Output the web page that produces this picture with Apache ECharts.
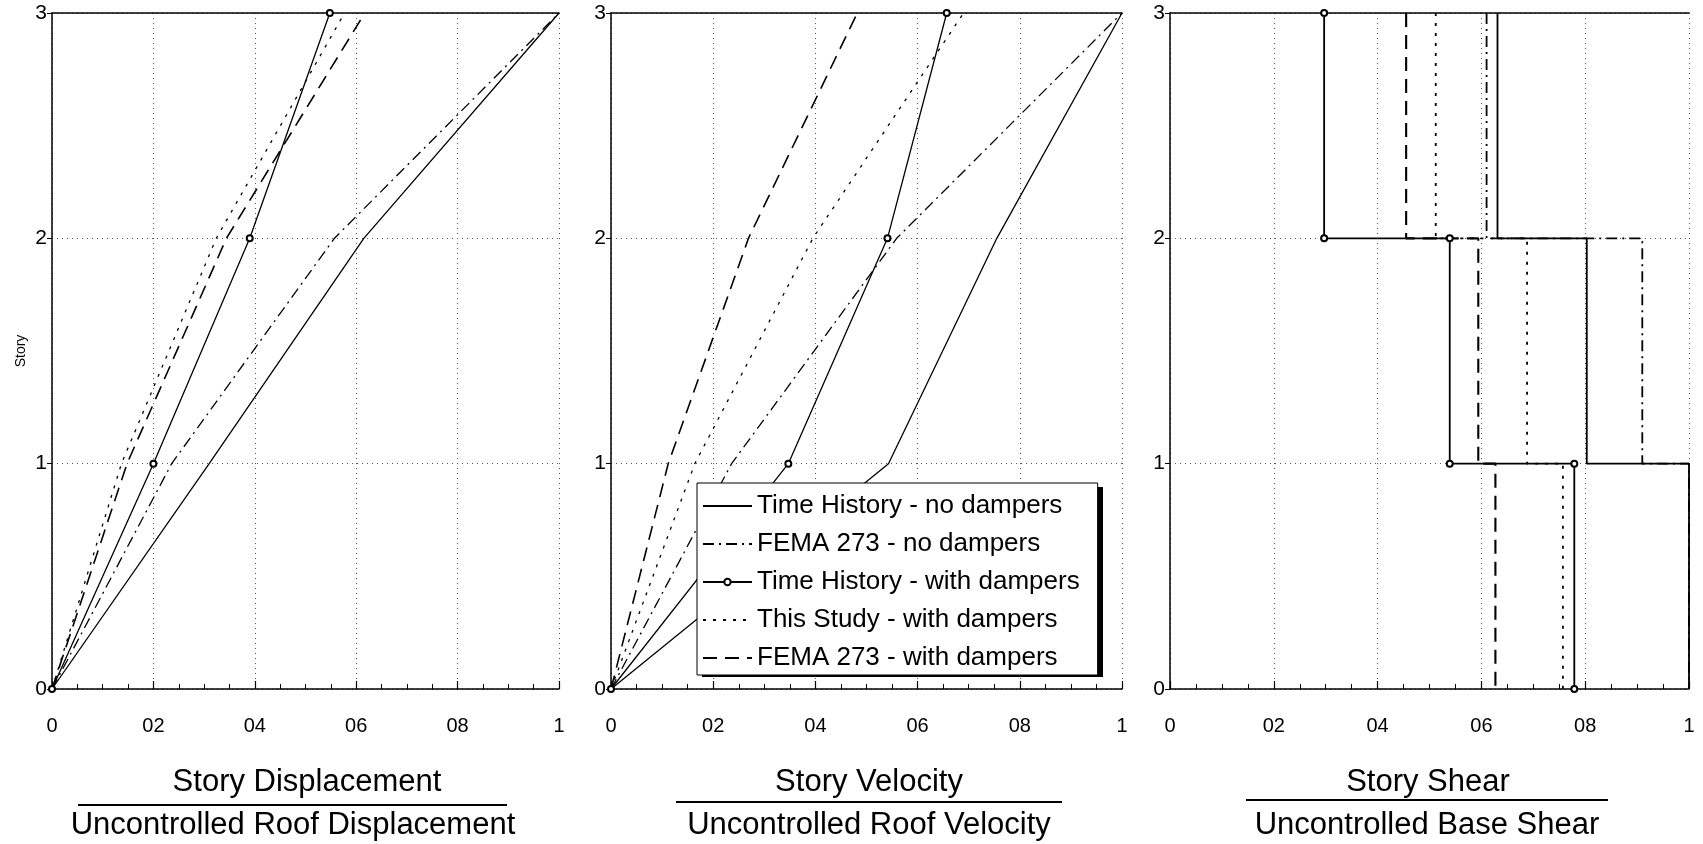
<!DOCTYPE html>
<html>
<head>
<meta charset="utf-8">
<script src="https://cdn.jsdelivr.net/npm/echarts@6/dist/echarts.min.js"></script>
<style>
  html, body { margin: 0; padding: 0; background: #fff; }
  #chart { width: 1703px; height: 844px; }
</style>
</head>
<body>
<div id="chart"></div>
<script>
// floors 0..3 for the profile plots
var storyLevels = [0, 1, 2, 3]
var xTickLabels = ['0', '02', '04', '06', '08', '1']
var yTickLabels = ['0', '1', '2', '3']

var seriesNames = [
  'Time History - no dampers',
  'FEMA 273 - no dampers',
  'Time History - with dampers',
  'This Study - with dampers',
  'FEMA 273 - with dampers'
]

// story displacement / uncontrolled roof displacement
var dispTHNo = [0, 0.31, 0.615, 1.0]
var dispFemaNo = [0, 0.236, 0.557, 1.0]
var dispTHWith = [0, 0.2, 0.39, 0.548]
var dispStudyWith = [0, 0.137, 0.324, 0.577]
var dispFemaWith = [0, 0.148, 0.344, 0.617]

// story velocity / uncontrolled roof velocity
var velTHNo = [0, 0.543, 0.755, 1.0]
var velFemaNo = [0, 0.236, 0.559, 1.0]
var velTHWith = [0, 0.347, 0.541, 0.657]
var velStudyWith = [0, 0.164, 0.395, 0.69]
var velFemaWith = [0, 0.112, 0.269, 0.482]

// story shear / uncontrolled base shear, stories 1..3
var shearTHNo = [1.0, 0.803, 0.631]
var shearFemaNo = [1.0, 0.91, 0.61]
var shearTHWith = [0.779, 0.539, 0.297]
var shearStudyWith = [0.757, 0.688, 0.512]
var shearFemaWith = [0.627, 0.594, 0.455]

var font = '"Liberation Sans", Arial, sans-serif'
var narrowFont = '"Liberation Sans Narrow", "Liberation Sans", Arial, sans-serif'

var lineTypes = ['solid', [11, 5, 2, 5], 'solid', [3, 7], [14, 8]]

var panels = [
  { left: 52, width: 507, kind: 'profile', sets: [dispTHNo, dispFemaNo, dispTHWith, dispStudyWith, dispFemaWith] },
  { left: 611, width: 511, kind: 'profile', sets: [velTHNo, velFemaNo, velTHWith, velStudyWith, velFemaWith] },
  { left: 1170, width: 519, kind: 'step', sets: [shearTHNo, shearFemaNo, shearTHWith, shearStudyWith, shearFemaWith] }
]

function profilePoints(vals) {
  return storyLevels.map(function(s, i) { return [vals[i], s] })
}

// shear is constant over a story: vertical segment per story, joined at the floors
function stepPoints(vals) {
  var pts = []
  for (var i = vals.length - 1; i >= 0; i--) {
    pts.push([vals[i], i + 1])
    pts.push([vals[i], i])
  }
  return pts
}

var grids = []
var xAxes = []
var topAxes = []
var yAxes = []
var series = []

panels.forEach(function(p, pi) {
  grids.push({ left: p.left, top: 13, width: p.width, height: 676 })
  xAxes.push({
    type: 'value', gridIndex: pi, min: 0, max: 1, interval: 0.2,
    axisLine: { show: true, lineStyle: { color: '#000', width: 1.5 } },
    axisTick: { show: true, inside: true, length: 8, lineStyle: { color: '#000', width: 1.2 } },
    minorTick: { show: true, splitNumber: 4, length: 5, lineStyle: { color: '#000', width: 1 } },
    axisLabel: {
      margin: 27, fontSize: 20, color: '#000', fontFamily: narrowFont,
      formatter: function(v) { return xTickLabels[Math.round(v / 0.2)] }
    },
    splitLine: { show: true, lineStyle: { color: '#555', width: 1, type: [1, 4] } }
  })
  topAxes.push({
    type: 'value', gridIndex: pi, min: 0, max: 1, position: 'top',
    axisLine: { show: true, onZero: false, lineStyle: { color: '#000', width: 1.5 } },
    axisTick: { show: false }, axisLabel: { show: false }, splitLine: { show: false }
  })
  yAxes.push({
    type: 'value', gridIndex: pi, min: 0, max: 3, interval: 1,
    name: pi === 0 ? 'Story' : '',
    nameLocation: 'middle', nameGap: 24,
    nameTextStyle: { fontSize: 14, color: '#000', fontFamily: font },
    axisLine: { show: true, lineStyle: { color: '#000', width: 1.5 } },
    axisTick: { show: true, length: 5, lineStyle: { color: '#000' } },
    axisLabel: {
      margin: 5, fontSize: 21, color: '#000', fontFamily: font,
      formatter: function(v) { return yTickLabels[v] }
    },
    splitLine: { show: true, lineStyle: { color: '#555', width: 1, type: [1, 4] } }
  })

  p.sets.forEach(function(vals, k) {
    var width = p.kind === 'step' ? 1.8 : 1.3
    if (k === 4) width += 0.3
    series.push({
      name: seriesNames[k],
      type: 'line',
      xAxisIndex: pi,
      yAxisIndex: pi,
      data: p.kind === 'step' ? stepPoints(vals) : profilePoints(vals),
      symbol: k === 2 ? 'emptyCircle' : 'none',
      symbolSize: 6,
      showSymbol: k === 2,
      itemStyle: { color: '#000', borderWidth: 1 },
      lineStyle: { color: '#000', width: width, type: lineTypes[k] },
      z: k === 2 ? 4 : 3,
      silent: true
    })
  })
})

// legend entries: only the time-history-with-dampers entry shows its marker
var legendData = seriesNames.map(function(n, k) {
  return k === 2 ? { name: n } : { name: n, itemStyle: { opacity: 0 } }
})

// layout of the fraction captions under each panel
var captions = [
  { top: 'Story Displacement', bottom: 'Uncontrolled Roof Displacement', cxTop: 307, cxBottom: 293, x1: 78, x2: 507, bar: 805 },
  { top: 'Story Velocity', bottom: 'Uncontrolled Roof Velocity', cxTop: 869, cxBottom: 869, x1: 676, x2: 1062, bar: 802 },
  { top: 'Story Shear', bottom: 'Uncontrolled Base Shear', cxTop: 1428, cxBottom: 1427, x1: 1246, x2: 1608, bar: 800 }
]

var graphics = [
  // drop shadow behind the legend box
  { type: 'rect', z: 9, shape: { x: 702, y: 487, width: 401, height: 190 }, style: { fill: '#000' } }
]
captions.forEach(function(c) {
  graphics.push({
    type: 'text', x: c.cxTop, y: 782,
    style: { text: c.top, font: '31px ' + font, fill: '#000', textAlign: 'center', textVerticalAlign: 'middle' }
  })
  graphics.push({
    type: 'line', shape: { x1: c.x1, y1: c.bar, x2: c.x2, y2: c.bar },
    style: { stroke: '#000', lineWidth: 2 }
  })
  graphics.push({
    type: 'text', x: c.cxBottom, y: 825,
    style: { text: c.bottom, font: '31px ' + font, fill: '#000', textAlign: 'center', textVerticalAlign: 'middle' }
  })
})

var chart = echarts.init(document.getElementById('chart'))
chart.setOption({
  animation: false,
  backgroundColor: '#fff',
  grid: grids,
  xAxis: xAxes.concat(topAxes),
  yAxis: yAxes,
  legend: {
    data: legendData,
    orient: 'vertical',
    left: 697,
    top: 483,
    padding: [10, 18, 4, 5],
    itemWidth: 49,
    itemHeight: 8,
    itemGap: 12,
    itemTextGap: 6,
    selectedMode: false,
    backgroundColor: '#fff',
    borderColor: '#000',
    borderWidth: 1,
    textStyle: { fontSize: 26, lineHeight: 26, color: '#000', fontFamily: font },
    z: 10
  },
  series: series,
  graphic: graphics
})
</script>
</body>
</html>
